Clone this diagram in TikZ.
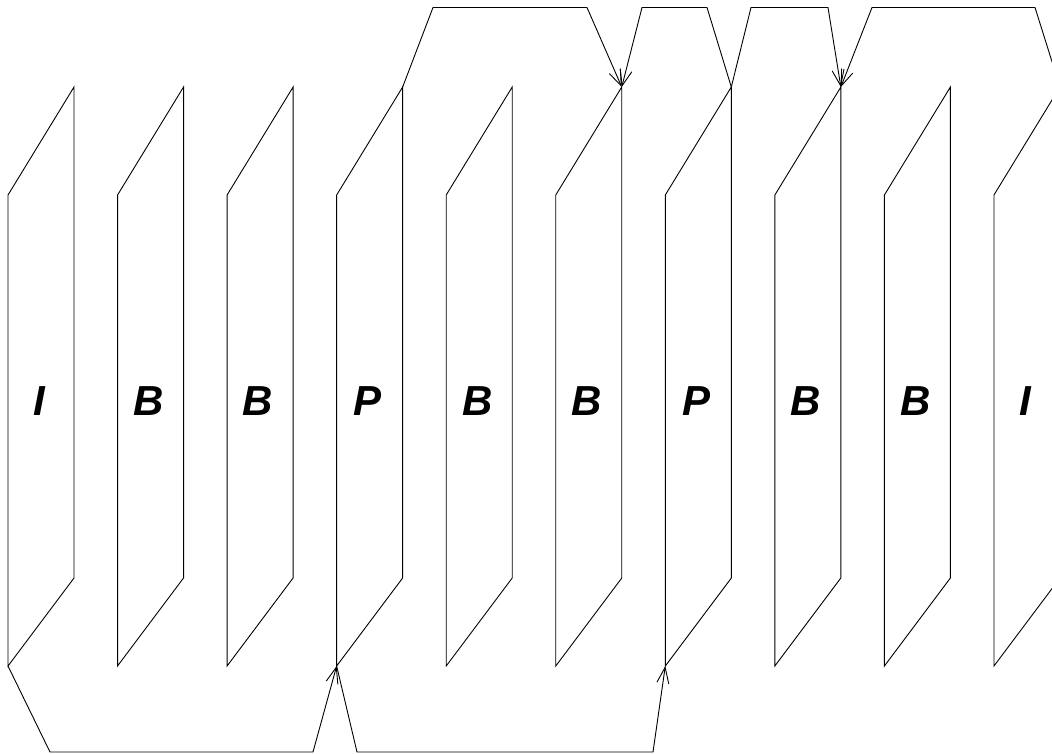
\documentclass[tikz,border=0pt]{standalone}
\usepackage{fontspec}
\setmainfont{Liberation Sans}
\usetikzlibrary{arrows.meta}
\tikzset{
  frame/.style={draw=black, line width=0.9pt, line join=miter},
  link/.style={draw=black, line width=0.9pt, -{Straight Barb[length=16pt,width=12pt,line width=0.9pt]}},
  lbl/.style={font=\fontsize{42}{42}\selectfont\bfseries\itshape, anchor=base, inner sep=0pt}
}
\begin{document}
\begin{tikzpicture}[x=1pt,y=-1pt]
\useasboundingbox (0,0) rectangle (1052,753);
\clip (0,0) rectangle (1052,753);
\foreach \i/\t in {1/I,2/B,3/B,4/P,5/B,6/B,7/P,8/B,9/B,10/I}{
  \pgfmathsetmacro{\L}{8+109.55*(\i-1)}
  \pgfmathsetmacro{\R}{\L+66}
  \coordinate (tl\i) at (\L,195);
  \coordinate (tr\i) at (\R,87);
  \coordinate (br\i) at (\R,578);
  \coordinate (bl\i) at (\L,666);
  \draw[frame] (tl\i) -- (tr\i) -- (br\i) -- (bl\i) -- cycle;
  \node[lbl] (lab\i) at (\L+31,415) {\t};
}
% waypoints
\coordinate (a1) at (50,752);   \coordinate (a2) at (313,752);
\coordinate (b1) at (357,752);  \coordinate (b2) at (653,752);
\coordinate (c1) at (433,7.5);  \coordinate (c2) at (587,7.5);
\coordinate (d1) at (707,7.5);  \coordinate (d2) at (642,7.5);
\coordinate (e1) at (751,7.5);  \coordinate (e2) at (828,7.5);
\coordinate (f1) at (1035,7.5); \coordinate (f2) at (872,7.5);
\draw[link] (bl1) -- (a1) -- (a2) -- (bl4);
\draw[link] (bl4) -- (b1) -- (b2) -- (bl7);
\draw[link] (tr4) -- (c1) -- (c2) -- (tr6);
\draw[link] (tr7) -- (d1) -- (d2) -- (tr6);
\draw[link] (tr7) -- (e1) -- (e2) -- (tr8);
\draw[link] (tr10) -- (f1) -- (f2) -- (tr8);
\end{tikzpicture}
\end{document}
